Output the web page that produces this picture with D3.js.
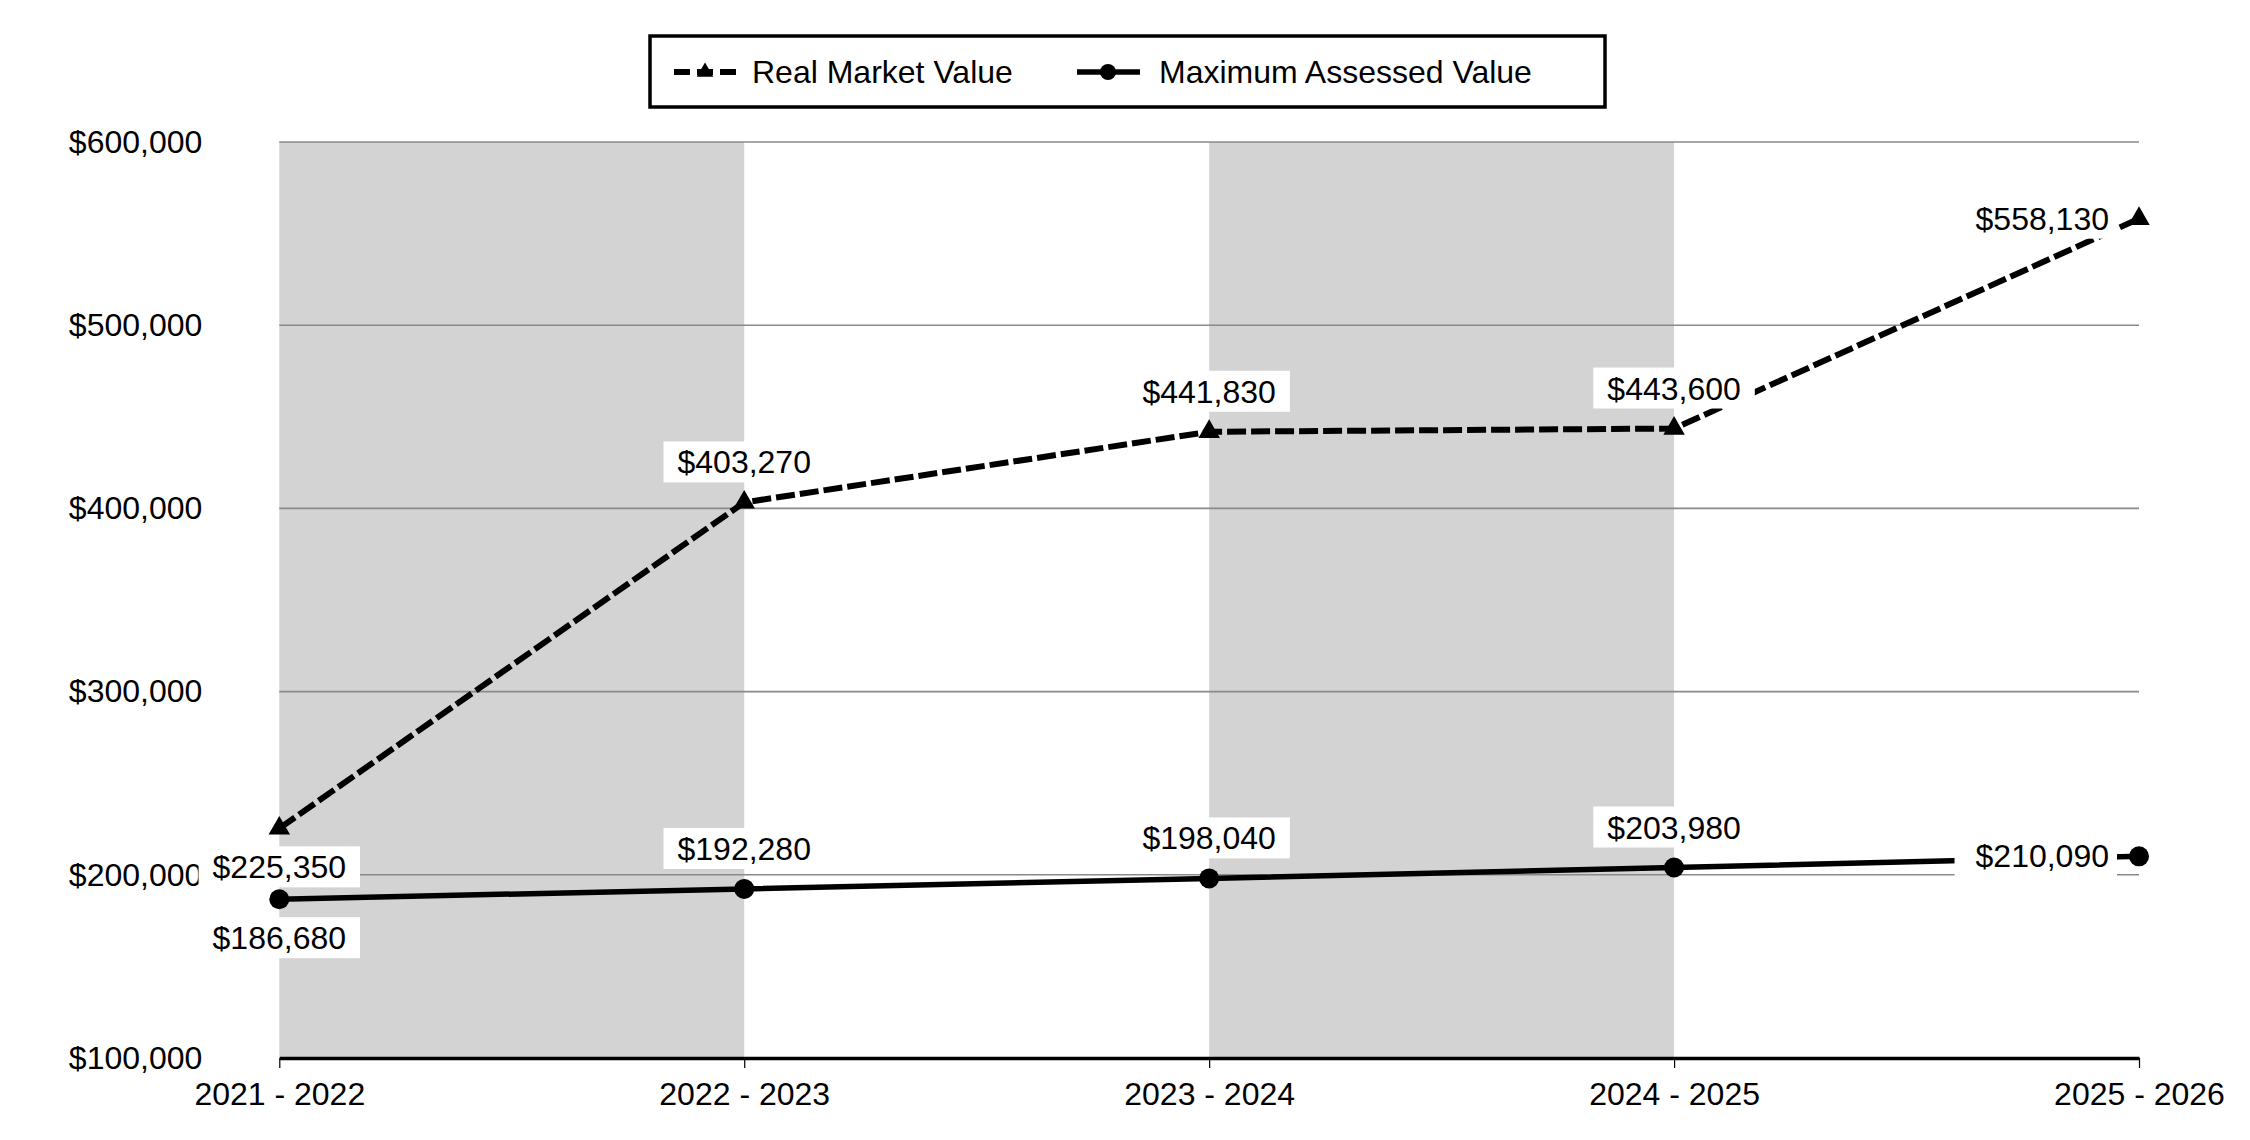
<!DOCTYPE html>
<html>
<head>
<meta charset="utf-8">
<script src="https://cdn.jsdelivr.net/npm/d3@7"></script>
<style>
    body { margin: 0; background: #fff; }
    svg { display: block; font-family: "Liberation Sans", Arial, sans-serif; }
</style>
</head>
<body>
<svg width="2250" height="1140"></svg>
<script>
// Tax years shown on the x axis
const years = ["2021 - 2022", "2022 - 2023", "2023 - 2024", "2024 - 2025", "2025 - 2026"];

// Series values
const realMarketValue = [225350, 403270, 441830, 443600, 558130];
const maxAssessedValue = [186680, 192280, 198040, 203980, 210090];

// Y axis ticks
const yTicks = [100000, 200000, 300000, 400000, 500000, 600000];

const svg = d3.select("svg");
const fmt = d3.format("$,");

// Plot area (window.top is taken, so use other names)
const plotLeft = 279.3, plotRight = 2139, plotTop = 142, plotBottom = 1058;

const x = d3.scalePoint().domain(years).range([plotLeft, plotRight]);
const y = d3.scaleLinear().domain([100000, 600000]).range([plotBottom, plotTop]);

// Grey bands between every other pair of ticks
const bands = svg.append("g");
years.forEach((yr, i) => {
    if (i % 2 === 0 && i < years.length - 1) {
        bands.append("rect")
            .attr("x", x(yr))
            .attr("y", plotTop)
            .attr("width", x(years[i + 1]) - x(yr))
            .attr("height", plotBottom - plotTop)
            .attr("fill", "#d3d3d3");
    }
});

// Horizontal gridlines (skip the bottom one, that's the x axis)
svg.append("g")
    .selectAll("line")
    .data(yTicks.filter(t => t > 100000))
    .enter()
    .append("line")
    .attr("x1", plotLeft)
    .attr("x2", plotRight)
    .attr("y1", d => y(d))
    .attr("y2", d => y(d))
    .attr("stroke", "#8a8a8a")
    .attr("stroke-width", 1.6);

// Y axis labels, no axis line
const yAxis = d3.axisLeft(y).tickValues(yTicks).tickFormat(fmt).tickSize(0).tickPadding(77);
const yG = svg.append("g")
    .attr("transform", `translate(${plotLeft},0)`)
    .call(yAxis);
yG.select(".domain").remove();
yG.selectAll("text")
    .attr("font-size", 32)
    .attr("font-family", "Liberation Sans, Arial, sans-serif")
    .attr("fill", "#000");

// X axis
const xAxis = d3.axisBottom(x).tickSize(10).tickSizeOuter(0).tickPadding(14);
const xG = svg.append("g")
    .attr("transform", `translate(0,${plotBottom})`)
    .call(xAxis);
xG.select(".domain")
    .attr("stroke", "#000")
    .attr("stroke-width", 3.5);
xG.selectAll(".tick line").attr("stroke", "#000").attr("stroke-width", 1.2);
xG.selectAll("text")
    .attr("font-size", 32)
    .attr("font-family", "Liberation Sans, Arial, sans-serif")
    .attr("fill", "#000");

// Lines
const line = d3.line()
    .x((d, i) => x(years[i]))
    .y(d => y(d));

svg.append("path")
    .datum(realMarketValue)
    .attr("d", line)
    .attr("fill", "none")
    .attr("stroke", "#000")
    .attr("stroke-width", 6)
    .attr("stroke-dasharray", "19,5");

svg.append("path")
    .datum(maxAssessedValue)
    .attr("d", line)
    .attr("fill", "none")
    .attr("stroke", "#000")
    .attr("stroke-width", 5.5);

// Markers
svg.append("g")
    .selectAll("path")
    .data(realMarketValue)
    .enter()
    .append("path")
    .attr("d", d3.symbol().type(d3.symbolTriangle).size(200))
    .attr("transform", (d, i) => `translate(${x(years[i])},${y(d)})`)
    .attr("fill", "#000");

svg.append("g")
    .selectAll("circle")
    .data(maxAssessedValue)
    .enter()
    .append("circle")
    .attr("cx", (d, i) => x(years[i]))
    .attr("cy", d => y(d))
    .attr("r", 10)
    .attr("fill", "#000");

// Data labels with white boxes: first point below, last one to the left, rest above
function addLabels(values) {
    values.forEach((v, i) => {
        const px = x(years[i]), py = y(v);
        const g = svg.append("g");
        const box = g.append("rect").attr("fill", "#fff");
        const t = g.append("text")
            .attr("font-size", 32)
            .attr("fill", "#000")
            .text(fmt(v));
        const w = t.node().getComputedTextLength();
        let tx, base, bx, bw;
        if (i === values.length - 1) {
            t.attr("text-anchor", "end");
            tx = px - 30;
            base = py + 11;
            bx = tx - w - 21;
            bw = w + 29;
        } else {
            t.attr("text-anchor", "middle");
            tx = px;
            base = i === 0 ? py + 50 : py - 29;
            bx = tx - w / 2 - 14;
            bw = w + 28;
        }
        t.attr("x", tx).attr("y", base);
        box.attr("x", bx)
            .attr("y", base - 32)
            .attr("width", bw)
            .attr("height", 41);
    });
}
addLabels(realMarketValue);
addLabels(maxAssessedValue);

// Legend
const legend = svg.append("g");
legend.append("rect")
    .attr("x", 650)
    .attr("y", 36)
    .attr("width", 955)
    .attr("height", 71)
    .attr("fill", "#fff")
    .attr("stroke", "#000")
    .attr("stroke-width", 3.5);

legend.append("line")
    .attr("x1", 674).attr("x2", 737)
    .attr("y1", 72).attr("y2", 72)
    .attr("stroke", "#000")
    .attr("stroke-width", 6)
    .attr("stroke-dasharray", "16,7");
legend.append("path")
    .attr("d", d3.symbol().type(d3.symbolTriangle).size(120))
    .attr("transform", "translate(705,72)")
    .attr("fill", "#000");
legend.append("text")
    .attr("x", 752).attr("y", 83)
    .attr("font-size", 32)
    .text("Real Market Value");

legend.append("line")
    .attr("x1", 1077).attr("x2", 1140)
    .attr("y1", 72).attr("y2", 72)
    .attr("stroke", "#000")
    .attr("stroke-width", 5.5);
legend.append("circle")
    .attr("cx", 1108).attr("cy", 72)
    .attr("r", 8)
    .attr("fill", "#000");
legend.append("text")
    .attr("x", 1159).attr("y", 83)
    .attr("font-size", 32)
    .text("Maximum Assessed Value");
</script>
</body>
</html>
